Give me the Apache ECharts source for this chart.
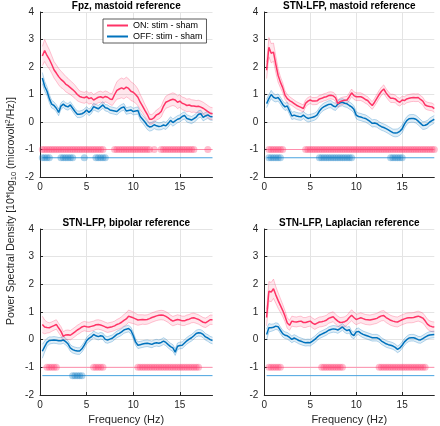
<!DOCTYPE html>
<html><head><meta charset="utf-8">
<script src="https://cdn.jsdelivr.net/npm/echarts@6/dist/echarts.min.js"></script>
<style>html,body{margin:0;padding:0;background:#fff}#c{width:440px;height:426px}</style>
</head><body><div id="c"></div>
<script>
// ---------------- DATA ----------------
const freq = [0.25,0.5,0.75,1,1.25,1.5,1.75,2,2.25,2.5,2.75,3,3.25,3.5,3.75,4,4.25,4.5,4.75,5,
5.25,5.5,5.75,6,6.25,6.5,6.75,7,7.25,7.5,7.75,8,8.25,8.5,8.75,9,9.25,9.5,9.75,10,
10.25,10.5,10.75,11,11.25,11.5,11.75,12,12.25,12.5,12.75,13,13.25,13.5,13.75,14,14.25,14.5,14.75,15,
15.25,15.5,15.75,16,16.25,16.5,16.75,17,17.25,17.5,17.75,18,18.25,18.5];

const panelTitles = ['Fpz, mastoid reference','STN-LFP, mastoid reference','STN-LFP, bipolar reference','STN-LFP, Laplacian reference'];
const seriesNames = ['ON: stim - sham','OFF: stim - sham'];

// Panel 1: Fpz, mastoid
const p1On = [2.4,2.6,2.42,2.28, 2.1,1.9,1.78,1.65, 1.55,1.48,1.38,1.32, 1.25,1.18,1.1,1.0,
 0.93,0.9,0.88,0.92, 0.85,0.88,0.8,0.85, 0.9,0.92,0.88,0.93, 0.9,0.84,0.82,1.0,
 1.15,1.2,1.24,1.2, 1.27,1.22,1.12,1.08, 1.0,0.9,0.72,0.58, 0.42,0.28,0.1,0.1,
 0.16,0.26,0.3,0.38, 0.58,0.72,0.76,0.8, 0.83,0.8,0.72,0.76, 0.68,0.65,0.6,0.62,
 0.58,0.58,0.56,0.57, 0.54,0.5,0.44,0.38, 0.32,0.3];
const p1OnSem = [0.35,0.4,0.38,0.35, 0.32,0.3,0.3,0.3, 0.3,0.28,0.28,0.27, 0.25,0.25,0.24,0.23,
 0.2,0.2,0.2,0.2, 0.2,0.2,0.2,0.2, 0.2,0.2,0.2,0.2, 0.2,0.2,0.22,0.28,
 0.32,0.35,0.36,0.36, 0.36,0.35,0.34,0.33, 0.32,0.3,0.28,0.25, 0.22,0.2,0.18,0.17,
 0.18,0.18,0.19,0.2, 0.21,0.22,0.23,0.23, 0.23,0.23,0.23,0.23, 0.23,0.23,0.23,0.23,
 0.23,0.22,0.22,0.22, 0.22,0.22,0.22,0.22, 0.22,0.22];
const p1Off = [1.6,1.3,1.12,0.85, 0.65,0.6,0.5,0.35, 0.58,0.65,0.58,0.55, 0.62,0.5,0.38,0.28,
 0.28,0.3,0.35,0.44, 0.35,0.42,0.56,0.52, 0.48,0.55,0.62,0.52, 0.5,0.44,0.42,0.4,
 0.38,0.46,0.52,0.55, 0.4,0.42,0.44,0.38, 0.4,0.42,0.2,0.1, 0.0,-0.12,-0.18,-0.16,
 -0.1,-0.14,-0.16,-0.15, -0.11,-0.14,-0.05,0.06, -0.02,0.04,0.1,0.13, 0.2,0.24,0.13,0.1,
 0.07,0.12,0.18,0.28, 0.3,0.17,0.22,0.26, 0.2,0.19];
const p1OffSem = [0.2,0.18,0.16,0.15, 0.14,0.13,0.13,0.12, 0.12,0.12,0.12,0.12, 0.12,0.12,0.12,0.12,
 0.12,0.12,0.12,0.12, 0.12,0.12,0.12,0.12, 0.12,0.12,0.12,0.12, 0.12,0.12,0.12,0.12,
 0.12,0.12,0.12,0.12, 0.12,0.12,0.12,0.12, 0.13,0.13,0.14,0.14, 0.15,0.15,0.15,0.15,
 0.14,0.14,0.13,0.13, 0.13,0.13,0.13,0.13, 0.13,0.13,0.13,0.13, 0.13,0.13,0.13,0.13,
 0.13,0.13,0.13,0.13, 0.13,0.13,0.13,0.13, 0.13,0.13];
const p1SigOn = [[0.25,6.75],[8.0,11.75],[12.25,12.25],[13.0,16.5],[18.0,18.0]];
const p1SigOff = [[0.25,1.0],[2.25,3.5],[4.75,4.75],[6.0,7.0]];

// Panel 2: STN-LFP, mastoid
const p2On = [1.88,2.72,2.5,2.54, 2.1,1.7,1.45,1.25, 0.98,0.85,0.78,0.73, 0.67,0.61,0.57,0.53,
 0.49,0.68,0.76,0.8, 0.76,0.76,0.77,0.84, 0.86,0.9,0.92,0.96, 0.97,0.95,0.88,0.67,
 0.74,0.77,0.79,0.8, 0.92,1.06,0.96,0.92, 0.92,0.92,0.88,0.82, 0.78,0.68,0.6,0.72,
 0.86,1.0,1.12,1.2, 1.06,0.95,0.86,0.86, 0.84,0.76,0.72,0.8, 0.78,0.84,0.86,0.88,
 0.89,0.88,0.89,0.82, 0.76,0.62,0.58,0.56, 0.55,0.49];
const p2OnSem = [0.3,0.35,0.35,0.33, 0.3,0.25,0.2,0.18, 0.16,0.15,0.14,0.13, 0.13,0.13,0.13,0.13,
 0.13,0.13,0.13,0.13, 0.13,0.13,0.13,0.13, 0.13,0.13,0.13,0.13, 0.13,0.13,0.13,0.13,
 0.13,0.13,0.13,0.13, 0.14,0.14,0.14,0.14, 0.14,0.14,0.14,0.14, 0.14,0.14,0.14,0.14,
 0.15,0.15,0.15,0.15, 0.15,0.15,0.15,0.15, 0.14,0.14,0.14,0.14, 0.14,0.14,0.14,0.14,
 0.14,0.14,0.14,0.14, 0.14,0.14,0.14,0.14, 0.14,0.14];
const p2Off = [0.67,0.85,1.0,0.9, 0.86,0.89,0.78,0.64, 0.55,0.58,0.4,0.22, 0.25,0.22,0.2,0.19,
 0.25,0.18,0.13,0.15, 0.17,0.2,0.26,0.4, 0.5,0.56,0.6,0.64, 0.65,0.58,0.55,0.65,
 0.7,0.72,0.68,0.66, 0.6,0.55,0.46,0.25, 0.2,0.18,0.15,0.13, 0.08,0.02,-0.05,-0.04,
 -0.06,-0.12,-0.17,-0.2, -0.24,-0.29,-0.34,-0.39, -0.4,-0.39,-0.34,-0.25, -0.08,0.05,0.12,0.13,
 0.13,0.1,0.03,-0.05, -0.13,-0.12,-0.08,0.0, 0.05,0.1];
const p2OffSem = [0.15,0.15,0.15,0.14, 0.13,0.13,0.13,0.13, 0.13,0.13,0.13,0.13, 0.13,0.13,0.13,0.13,
 0.13,0.13,0.13,0.13, 0.13,0.13,0.13,0.13, 0.13,0.13,0.13,0.13, 0.13,0.13,0.13,0.13,
 0.13,0.13,0.13,0.13, 0.13,0.13,0.13,0.13, 0.13,0.13,0.13,0.13, 0.13,0.13,0.13,0.13,
 0.13,0.13,0.13,0.13, 0.13,0.13,0.13,0.13, 0.14,0.14,0.14,0.14, 0.14,0.14,0.14,0.14,
 0.14,0.14,0.14,0.14, 0.14,0.14,0.14,0.14, 0.14,0.14];
const p2SigOn = [[0.5,2.0],[4.5,18.5]];
const p2SigOff = [[0.5,1.75],[6.0,9.5],[13.75,15.0]];

// Panel 3: STN-LFP, bipolar
const p3On = [0.55,0.46,0.44,0.43, 0.47,0.51,0.55,0.42, 0.3,0.12,0.17,0.18, 0.16,0.22,0.28,0.35,
 0.4,0.46,0.49,0.47, 0.46,0.48,0.5,0.54, 0.55,0.53,0.5,0.46, 0.43,0.45,0.47,0.5,
 0.55,0.58,0.63,0.7, 0.75,0.85,0.82,0.79, 0.75,0.71,0.72,0.73, 0.72,0.73,0.76,0.8,
 0.83,0.86,0.88,0.89, 0.88,0.84,0.79,0.72, 0.67,0.7,0.73,0.71, 0.68,0.68,0.72,0.74,
 0.78,0.79,0.76,0.73, 0.68,0.63,0.61,0.66, 0.72,0.72];
const p3OnSem = [0.3,0.25,0.2,0.18, 0.17,0.17,0.17,0.17, 0.17,0.17,0.17,0.17, 0.17,0.17,0.17,0.17,
 0.17,0.17,0.17,0.17, 0.17,0.17,0.17,0.17, 0.17,0.17,0.17,0.17, 0.17,0.17,0.17,0.17,
 0.18,0.19,0.2,0.21, 0.22,0.22,0.22,0.21, 0.2,0.19,0.18,0.17, 0.17,0.17,0.17,0.17,
 0.17,0.17,0.17,0.17, 0.17,0.17,0.17,0.17, 0.17,0.17,0.17,0.17, 0.17,0.17,0.17,0.17,
 0.17,0.17,0.17,0.17, 0.17,0.17,0.17,0.17, 0.17,0.17];
const p3Off = [-0.42,-0.25,-0.1,-0.03, -0.02,-0.01,-0.02,-0.04, -0.04,-0.01,-0.07,-0.15, -0.3,-0.36,-0.39,-0.41,
 -0.41,-0.33,-0.2,-0.04, 0.05,0.1,0.19,0.14, 0.11,0.14,0.12,0.01, -0.01,0.02,0.05,0.12,
 0.19,0.23,0.28,0.35, 0.38,0.4,0.33,0.15, -0.08,-0.2,-0.18,-0.16, -0.14,-0.13,-0.15,-0.17,
 -0.13,-0.11,-0.13,-0.1, -0.05,-0.1,-0.18,-0.25, -0.3,-0.45,-0.24,-0.21, -0.2,-0.12,-0.04,0.02,
 0.07,0.14,0.22,0.25, 0.24,0.19,0.1,0.06, 0.0,-0.03];
const p3OffSem = [0.25,0.2,0.15,0.13, 0.12,0.12,0.12,0.12, 0.12,0.12,0.12,0.12, 0.12,0.12,0.12,0.12,
 0.12,0.12,0.12,0.12, 0.12,0.12,0.12,0.12, 0.12,0.12,0.12,0.12, 0.12,0.12,0.12,0.12,
 0.12,0.12,0.12,0.12, 0.12,0.12,0.12,0.12, 0.12,0.12,0.12,0.12, 0.12,0.12,0.12,0.12,
 0.12,0.12,0.12,0.12, 0.12,0.12,0.12,0.12, 0.12,0.12,0.12,0.12, 0.12,0.12,0.12,0.12,
 0.12,0.12,0.12,0.12, 0.12,0.12,0.12,0.12, 0.12,0.12];
const p3SigOn = [[0.75,1.75],[5.75,6.75],[10.5,17.0]];
const p3SigOff = [[3.5,4.5]];

// Panel 4: STN-LFP, Laplacian
const p4On = [0.8,1.75,1.72,1.84, 1.62,1.42,1.24,1.06, 0.85,0.6,0.52,0.67, 0.65,0.64,0.66,0.67,
 0.62,0.62,0.65,0.67, 0.6,0.55,0.6,0.64, 0.65,0.67,0.7,0.77, 0.8,0.83,0.74,0.67,
 0.62,0.63,0.65,0.7, 0.8,0.88,0.8,0.73, 0.76,0.79,0.76,0.73, 0.72,0.71,0.73,0.75,
 0.77,0.82,0.86,0.87, 0.8,0.75,0.7,0.67, 0.65,0.64,0.68,0.72, 0.75,0.78,0.79,0.79,
 0.8,0.83,0.85,0.82, 0.78,0.68,0.56,0.5, 0.47,0.46];
const p4OnSem = [0.3,0.35,0.35,0.35, 0.3,0.28,0.25,0.22, 0.2,0.19,0.18,0.18, 0.18,0.18,0.18,0.18,
 0.18,0.18,0.18,0.18, 0.18,0.18,0.18,0.18, 0.18,0.18,0.18,0.18, 0.18,0.18,0.18,0.18,
 0.18,0.18,0.18,0.18, 0.19,0.2,0.2,0.19, 0.18,0.18,0.18,0.18, 0.18,0.18,0.18,0.18,
 0.18,0.18,0.18,0.18, 0.18,0.18,0.18,0.18, 0.18,0.18,0.18,0.18, 0.18,0.18,0.18,0.18,
 0.18,0.18,0.18,0.18, 0.18,0.18,0.18,0.18, 0.18,0.18];
const p4Off = [0.19,0.43,0.43,0.45, 0.49,0.47,0.34,0.22, 0.16,0.14,0.08,0.01, 0.06,0.02,-0.03,-0.06,
 -0.09,-0.11,-0.1,-0.11, -0.05,0.01,0.09,0.16, 0.2,0.24,0.28,0.34, 0.37,0.39,0.38,0.35,
 0.4,0.46,0.38,0.33, 0.36,0.2,0.15,0.28, 0.3,0.24,0.19,0.16, 0.13,0.1,0.07,0.07,
 0.07,0.03,-0.05,-0.1, -0.15,-0.18,-0.2,-0.23, -0.28,-0.35,-0.3,-0.2, -0.08,0.0,0.06,0.07,
 0.07,0.04,0.0,-0.01, 0.04,0.09,0.14,0.17, 0.18,0.19];
const p4OffSem = [0.2,0.15,0.13,0.12, 0.12,0.12,0.12,0.12, 0.12,0.12,0.12,0.12, 0.12,0.12,0.12,0.12,
 0.12,0.12,0.12,0.12, 0.12,0.12,0.12,0.12, 0.12,0.12,0.12,0.12, 0.12,0.12,0.12,0.12,
 0.12,0.12,0.12,0.12, 0.12,0.12,0.12,0.12, 0.12,0.12,0.12,0.12, 0.12,0.12,0.12,0.12,
 0.12,0.12,0.12,0.12, 0.12,0.12,0.12,0.12, 0.12,0.12,0.12,0.12, 0.12,0.12,0.12,0.12,
 0.12,0.12,0.12,0.12, 0.12,0.12,0.12,0.12, 0.12,0.12];
const p4SigOn = [[0.5,1.75],[6.25,8.5],[12.5,17.5]];
const p4SigOff = [];

const sigLevelOn = -1, sigLevelOff = -1.3;

// ---------------- CHART ----------------
const panels = [
  {on:p1On, onSem:p1OnSem, off:p1Off, offSem:p1OffSem, sigOn:p1SigOn, sigOff:p1SigOff},
  {on:p2On, onSem:p2OnSem, off:p2Off, offSem:p2OffSem, sigOn:p2SigOn, sigOff:p2SigOff},
  {on:p3On, onSem:p3OnSem, off:p3Off, offSem:p3OffSem, sigOn:p3SigOn, sigOff:p3SigOff},
  {on:p4On, onSem:p4OnSem, off:p4Off, offSem:p4OffSem, sigOn:p4SigOn, sigOff:p4SigOff}
];
const FONT = '"Liberation Sans", Arial, Helvetica, sans-serif';
const PINK = '#ff3366', BLUE = '#0072bd';
const TXT = '#262626';
const grids = [
  {left:40, top:12, width:172.5, height:165},
  {left:264.3, top:12, width:170, height:165},
  {left:40, top:229, width:172.5, height:167},
  {left:264.3, top:229, width:170, height:167}
];
const chart = echarts.init(document.getElementById('c'), null, {renderer:'canvas'});

function inRanges(f, ranges){ return ranges.some(r => f >= r[0]-1e-9 && f <= r[1]+1e-9); }

function band(i, mean, sem, fill, edge){
  return {
    type:'custom', xAxisIndex:i, yAxisIndex:i, coordinateSystem:'cartesian2d', silent:true, clip:true, z:1,
    data:[[freq[0], mean[0]]],
    renderItem:(params, api) => {
      const up = freq.map((f,j) => api.coord([f, mean[j] + sem[j]]));
      const lo = freq.map((f,j) => api.coord([f, mean[j] - sem[j]]));
      return {type:'group', children:[
        {type:'polygon', shape:{points: up.concat(lo.slice().reverse())}, style:{fill:fill, stroke:null}},
        {type:'polyline', shape:{points: up}, style:{stroke:edge, lineWidth:0.8, fill:null}},
        {type:'polyline', shape:{points: lo}, style:{stroke:edge, lineWidth:0.8, fill:null}}
      ]};
    }
  };
}

const xAxes = [], yAxes = [], series = [], graphics = [];
panels.forEach((p, i) => {
  xAxes.push({
    gridIndex:i, type:'value', min:0, max:18.5, interval:5,
    name: i >= 2 ? 'Frequency (Hz)' : '', nameLocation:'middle', nameGap:19,
    nameTextStyle:{fontSize:11, color:TXT, fontFamily:FONT},
    axisLine:{show:true, onZero:false, lineStyle:{color:TXT, width:1}},
    axisTick:{show:true, inside:true, length:3, lineStyle:{color:TXT}},
    axisLabel:{fontSize:10, color:TXT, margin:5, showMaxLabel:false, fontFamily:FONT},
    splitLine:{show:true, showMaxLine:false, showMinLine:false, lineStyle:{color:'#e4e4e4', width:1}}
  });
  yAxes.push({
    gridIndex:i, type:'value', min:-2, max:4, interval:1,
    axisLine:{show:true, onZero:false, lineStyle:{color:TXT, width:1}},
    axisTick:{show:true, inside:true, length:3, lineStyle:{color:TXT}},
    axisLabel:{fontSize:10, color:TXT, margin:6, fontFamily:FONT},
    splitLine:{show:true, showMinLine:false, lineStyle:{color:'#e4e4e4', width:1}}
  });
  const g = grids[i];
  graphics.push({
    type:'text', x: g.left + g.width/2, y: i < 2 ? 6 : 223, silent:true,
    style:{text: panelTitles[i], align:'center', verticalAlign:'middle',
      fontSize:10, fontWeight:'bold', fill:'#000', fontFamily:FONT}
  });

  series.push(band(i, p.on, p.onSem, 'rgba(255,51,102,0.12)', 'rgba(255,51,102,0.35)'));
  series.push(band(i, p.off, p.offSem, 'rgba(0,114,189,0.12)', 'rgba(0,114,189,0.35)'));

  // significance baselines
  series.push({type:'line', xAxisIndex:i, yAxisIndex:i, silent:true, symbol:'none', z:2,
    data:[[freq[0], sigLevelOn],[freq[freq.length-1], sigLevelOn]],
    lineStyle:{color:'#ff8fad', width:1}});
  series.push({type:'line', xAxisIndex:i, yAxisIndex:i, silent:true, symbol:'none', z:2,
    data:[[freq[0], sigLevelOff],[freq[freq.length-1], sigLevelOff]],
    lineStyle:{color:'#4aa3df', width:1}});
  series.push({type:'scatter', xAxisIndex:i, yAxisIndex:i, silent:true, symbol:'circle', symbolSize:7, z:3,
    data: freq.filter(f => inRanges(f, p.sigOn)).map(f => [f, sigLevelOn]),
    itemStyle:{color:'rgba(255,51,102,0.4)'}});
  series.push({type:'scatter', xAxisIndex:i, yAxisIndex:i, silent:true, symbol:'circle', symbolSize:7, z:3,
    data: freq.filter(f => inRanges(f, p.sigOff)).map(f => [f, sigLevelOff]),
    itemStyle:{color:'rgba(0,114,189,0.38)'}});

  series.push({type:'line', name:seriesNames[1], xAxisIndex:i, yAxisIndex:i, symbol:'none', showSymbol:false, z:4,
    data: freq.map((f,j) => [f, p.off[j]]), lineStyle:{color:BLUE, width:1.5}, itemStyle:{color:BLUE}});
  series.push({type:'line', name:seriesNames[0], xAxisIndex:i, yAxisIndex:i, symbol:'none', showSymbol:false, z:4,
    data: freq.map((f,j) => [f, p.on[j]]), lineStyle:{color:PINK, width:1.5}, itemStyle:{color:PINK}});
});

graphics.push({
  type:'text', x:11, y:211, rotation:Math.PI/2, silent:true,
  style:{
    text:'Power Spectral Density [10*log{sub|10} (microvolt{sup|2}/Hz)]',
    fontSize:10.5, fontFamily:FONT, fill:TXT, align:'center', verticalAlign:'middle', lineHeight:14,
    rich:{
      sub:{fontSize:7.5, fontFamily:FONT, fill:TXT, verticalAlign:'bottom', lineHeight:9},
      sup:{fontSize:7.5, fontFamily:FONT, fill:TXT, verticalAlign:'top', lineHeight:9}
    }
  }
});

chart.setOption({
  animation:false,
  backgroundColor:'#fff',
  textStyle:{fontFamily:FONT},
  grid: grids,
  xAxis: xAxes,
  yAxis: yAxes,
  legend:{
    data:[seriesNames[0], seriesNames[1]], orient:'vertical', left:103, top:19,
    icon:'rect', itemWidth:21, itemHeight:2, itemGap:0, padding:[1,4,1,4],
    backgroundColor:'#fff', borderColor:'#333', borderWidth:0.8, selectedMode:false,
    textStyle:{fontSize:9, color:'#000', lineHeight:11, fontFamily:FONT}
  },
  graphic: graphics,
  series: series
});
</script>
</body></html>
